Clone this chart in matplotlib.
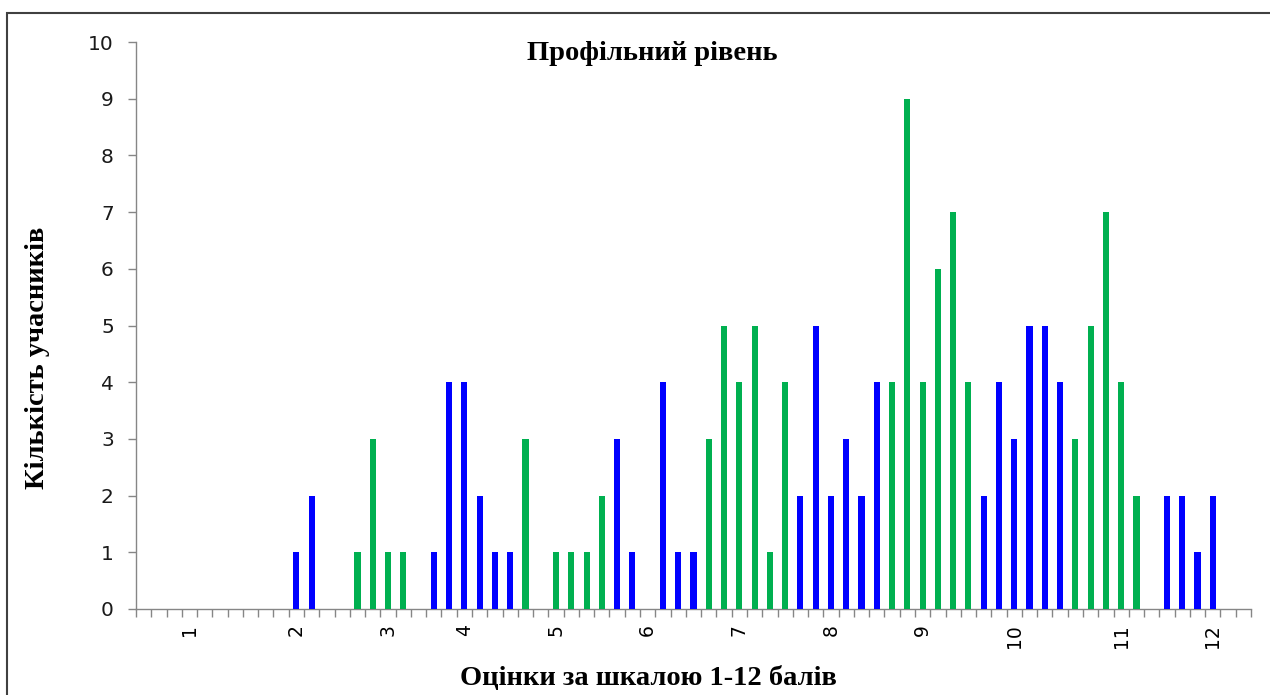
import numpy as np
import matplotlib
matplotlib.use("Agg")
import matplotlib.pyplot as plt
from matplotlib.patches import Rectangle

# one slot per category on the x axis (73 slots), grade labels under some of them
blue_counts = [0, 0, 0, 0, 0, 0, 0, 0, 0, 0,
               1, 2, 0, 0, 0, 0, 0, 0, 0, 1,
               4, 4, 2, 1, 1, 0, 0, 0, 0, 0,
               0, 3, 1, 0, 4, 1, 1, 0, 0, 0,
               0, 0, 0, 2, 5, 2, 3, 2, 4, 0,
               0, 0, 0, 0, 0, 2, 4, 3, 5, 5,
               4, 0, 0, 0, 0, 0, 0, 2, 2, 1,
               2, 0, 0]
green_counts = [0, 0, 0, 0, 0, 0, 0, 0, 0, 0,
                0, 0, 0, 0, 1, 3, 1, 1, 0, 0,
                0, 0, 0, 0, 0, 3, 0, 1, 1, 1,
                2, 0, 0, 0, 0, 0, 0, 3, 5, 4,
                5, 1, 4, 0, 0, 0, 0, 0, 0, 4,
                9, 4, 6, 7, 4, 0, 0, 0, 0, 0,
                0, 3, 5, 7, 4, 2, 0, 0, 0, 0,
                0, 0, 0]
x_labels = ['', '', '', '1', '', '', '', '', '', '',
            '2', '', '', '', '', '', '3', '', '', '',
            '', '4', '', '', '', '', '', '5', '', '',
            '', '', '', '6', '', '', '', '', '', '7',
            '', '', '', '', '', '8', '', '', '', '',
            '', '9', '', '', '', '', '', '10', '', '',
            '', '', '', '', '11', '', '', '', '', '',
            '12', '', '']

title = "Профільний рівень"
x_title = "Оцінки за шкалою 1-12 балів"
y_title = "Кількість учасників"

W, H = 1270, 695
fig = plt.figure(figsize=(W / 100, H / 100), dpi=100)
ax = fig.add_axes([136 / W, 1 - 609 / H, (1251 - 136) / W, (609 - 42) / H])

x = np.arange(len(blue_counts))
ax.bar(x, blue_counts, width=0.4, color="#0000FF", zorder=3)
ax.bar(x, green_counts, width=0.4, color="#00B050", zorder=3)

ax.set_xlim(-0.5, len(x) - 0.5)
ax.set_ylim(0, 10)
ax.set_yticks(range(0, 11))

# labels under categories, tick marks on slot boundaries
ax.set_xticks(x)
ax.set_xticklabels(x_labels, rotation=90, fontsize=13.5, family="DejaVu Sans")
ax.set_xticks(np.arange(-0.5, len(x)), minor=True)
ax.tick_params(axis="x", which="major", length=0, pad=11)
ax.tick_params(axis="x", which="minor", length=6, width=1, color="#868686")
ax.tick_params(axis="y", length=6, width=1, color="#868686", pad=10,
               labelsize=14.5, labelcolor="#1a1a1a")

for side in ("top", "right"):
    ax.spines[side].set_visible(False)
for side in ("left", "bottom"):
    ax.spines[side].set_color("#868686")
    ax.spines[side].set_linewidth(1)

serif = "Liberation Serif"
ax.text(0.463, 0.979, title, transform=ax.transAxes, ha="center", va="center",
        fontsize=20.5, fontweight="bold", family=serif)
fig.text(648 / W, 1 - 679 / H, x_title, ha="center", va="center",
         fontsize=20.5, fontweight="bold", family=serif)
fig.text(38 / W, 1 - 358 / H, y_title, ha="center", va="center", rotation=90,
         fontsize=20.5, fontweight="bold", family=serif)

# outer frame of the chart area
fig.patches.append(Rectangle((6.5 / W, -0.05), 1.1, 1.05 - 12.5 / H,
                             transform=fig.transFigure, fill=False,
                             edgecolor="#404040", linewidth=1.5))

fig.savefig("out.png", dpi=100)
